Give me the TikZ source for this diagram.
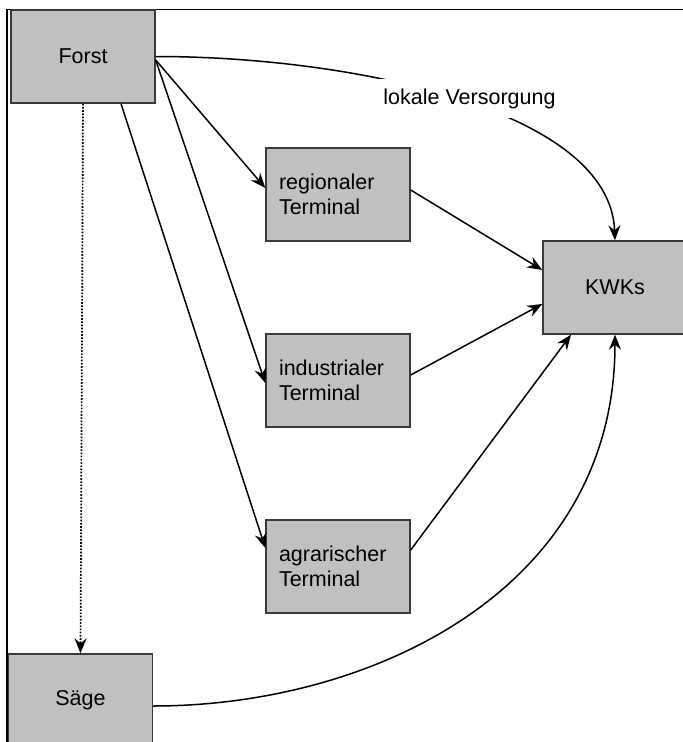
\documentclass[tikz,border=0pt]{standalone}
\usepackage{fontspec}
\setmainfont{Liberation Sans}
\usetikzlibrary{arrows.meta}
\definecolor{boxfill}{HTML}{C0C0C0}
\definecolor{boxline}{HTML}{3A3A3A}
\begin{document}
\begin{tikzpicture}[x=1pt,y=-1pt,
  txt/.style={font=\fontsize{21.5}{24.5}\selectfont},
  box/.style={txt, draw=boxline, fill=boxfill, line width=1.4pt,
    minimum width=144pt, minimum height=93pt, inner sep=0pt},
  termbox/.style={box, text width=118pt, align=left},
  flow/.style={line width=1.5pt, -{Stealth[length=15pt,width=12pt,inset=5pt]}},
]
\useasboundingbox (0,0) rectangle (683,742);
\clip (0,0) rectangle (683,742);

% outer frame (top and left edges only)
\draw[line width=1.4pt] (7,742) -- (7,9.5) -- (683,9.5);

% boxes
\node[box] (forst) at (83,56.5) {Forst};
\node[termbox] (reg) at (338,194.5) {regionaler\\Terminal};
\node[termbox] (ind) at (338,380.5) {industrialer\\Terminal};
\node[termbox] (agr) at (338,566.5) {agrarischer\\Terminal};
\node[box] (kwk) at (615,287.5) {KWKs};
\node[box] (saege) at (80.5,700.5) {Säge};

% forest to terminals
\draw[flow] ([yshift=-3.5pt]forst.east) -- ([yshift=6.5pt]reg.west);
\draw[flow] ([yshift=-3.5pt]forst.east) -- ([yshift=-2.5pt]ind.west);
\draw[flow] ([xshift=38pt]forst.south) -- ([yshift=18.5pt]agr.west);

% terminals to CHP plants
\draw[flow] ([yshift=4.5pt]reg.east) -- ([yshift=17.5pt]kwk.west);
\draw[flow] ([yshift=5.5pt]ind.east) -- ([yshift=-16.5pt]kwk.west);
\draw[flow] ([yshift=16.5pt]agr.east) -- ([xshift=-44pt]kwk.south);

% direct local supply
\draw[flow] (forst.east) .. controls +(195,0) and +(-5,-131) .. (kwk.north);
\node[txt, fill=white, inner xsep=12pt, inner ysep=9pt] (lokal) at (469.5,98.5) {lokale Versorgung};

% sawmill
\draw[flow, line width=1.7pt, dash pattern=on 1.7pt off 1.5pt] (forst.south) -- (saege.north);
\draw[flow] ([yshift=-5.5pt]saege.east) .. controls +(217,0) and +(0,256) .. (kwk.south);
\end{tikzpicture}
\end{document}
